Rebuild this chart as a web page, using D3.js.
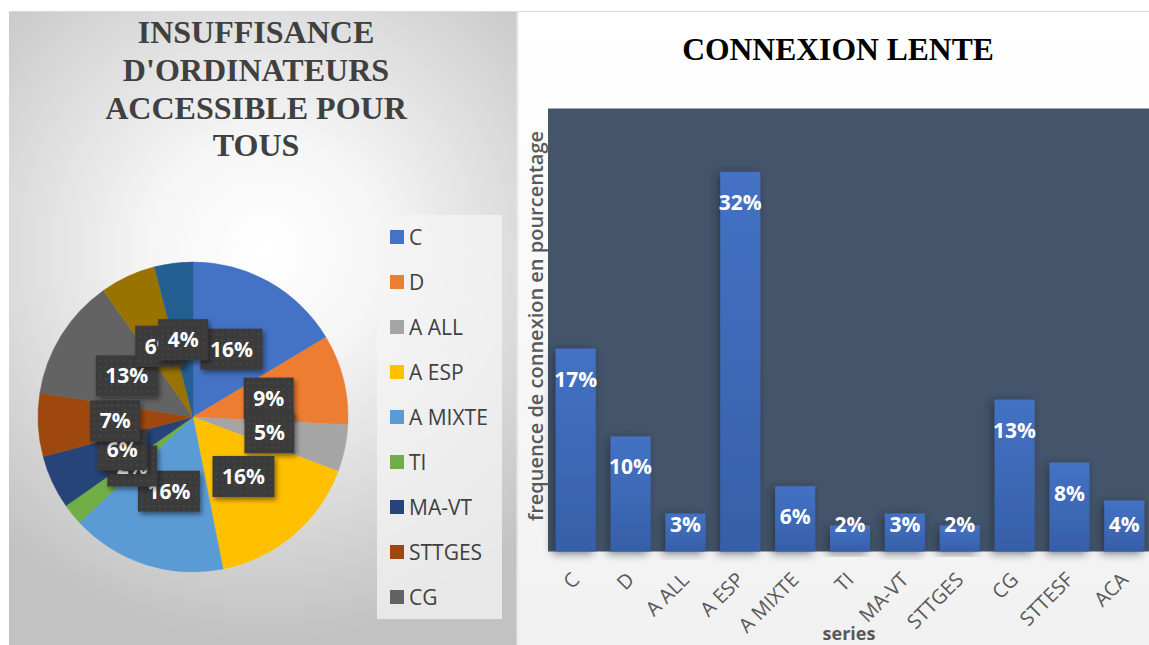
<!DOCTYPE html>
<html>
<head>
<meta charset="utf-8">
<script src="https://cdn.jsdelivr.net/npm/d3@7"></script>
<style>
    body { margin: 0; background: #fff; }
    svg { display: block; }
</style>
</head>
<body>
<svg id="chart" width="1149" height="645"></svg>
<script>
// data
const categories = ['C', 'D', 'A ALL', 'A ESP', 'A MIXTE', 'TI', 'MA-VT', 'STTGES', 'CG', 'STTESF', 'ACA'];
const pieColors = ['#4472C4', '#ED7D31', '#A5A5A5', '#FFC000', '#5B9BD5', '#70AD47',
                   '#264478', '#9E480E', '#636363', '#997300', '#255E91'];
const pieValues = [16.4, 9.4, 4.9, 16.2, 16.2, 2.2, 5.6, 6.6, 12.7, 5.8, 4.0];
const barValues = [17.1, 9.7, 3.2, 32.0, 5.5, 2.2, 3.2, 2.2, 12.8, 7.5, 4.3];
const pieTitle = ['INSUFFISANCE', "D'ORDINATEURS", 'ACCESSIBLE POUR', 'TOUS'];
const barTitle = 'CONNEXION LENTE';
const yTitle = 'frequence de connexion en pourcentage';
const xTitle = 'series';

const svg = d3.select('#chart');
const defs = svg.append('defs');

// backgrounds
const rg = defs.append('radialGradient').attr('id', 'leftBg')
    .attr('gradientUnits', 'userSpaceOnUse')
    .attr('cx', 265).attr('cy', 250).attr('r', 390);
rg.append('stop').attr('offset', 0).attr('stop-color', '#ffffff');
rg.append('stop').attr('offset', 0.3).attr('stop-color', '#f5f5f5');
rg.append('stop').attr('offset', 1).attr('stop-color', '#c2c2c2');

const lg = defs.append('linearGradient').attr('id', 'rightBg')
    .attr('x1', 0).attr('y1', 0).attr('x2', 0).attr('y2', 1);
lg.append('stop').attr('offset', 0).attr('stop-color', '#ffffff');
lg.append('stop').attr('offset', 1).attr('stop-color', '#f1f1f1');

const bg = defs.append('linearGradient').attr('id', 'barFill')
    .attr('x1', 0).attr('y1', 0).attr('x2', 0).attr('y2', 1);
bg.append('stop').attr('offset', 0).attr('stop-color', '#4472C4');
bg.append('stop').attr('offset', 1).attr('stop-color', '#365FA8');

const shadow = defs.append('filter').attr('id', 'shadow')
    .attr('x', '-30%').attr('y', '-30%').attr('width', '160%').attr('height', '160%');
shadow.append('feDropShadow').attr('dx', 2).attr('dy', 3).attr('stdDeviation', 2.5)
    .attr('flood-color', '#000').attr('flood-opacity', 0.45);

const barShadow = defs.append('filter').attr('id', 'barShadow')
    .attr('x', '-50%').attr('y', '-20%').attr('width', '200%').attr('height', '140%');
barShadow.append('feDropShadow').attr('dx', -3).attr('dy', 2).attr('stdDeviation', 4)
    .attr('flood-color', '#1e2633').attr('flood-opacity', 0.6);

const dots = defs.append('pattern').attr('id', 'dots')
    .attr('width', 6).attr('height', 6).attr('patternUnits', 'userSpaceOnUse');
dots.append('rect').attr('width', 6).attr('height', 6).attr('fill', '#3b3b3b');
dots.append('circle').attr('cx', 3).attr('cy', 3).attr('r', 0.9).attr('fill', '#4b4b4b');

svg.append('rect').attr('x', 9).attr('y', 11).attr('width', 508).attr('height', 634)
    .attr('fill', 'url(#leftBg)');
svg.append('rect').attr('x', 518).attr('y', 11).attr('width', 631).attr('height', 634)
    .attr('fill', 'url(#rightBg)');
svg.append('line').attr('x1', 9).attr('x2', 1149).attr('y1', 11.5).attr('y2', 11.5)
    .attr('stroke', '#d9d9d9');
svg.append('line').attr('x1', 517.5).attr('x2', 517.5).attr('y1', 11).attr('y2', 645)
    .attr('stroke', '#e8e8e8').attr('stroke-width', 2);

// ---------- left: pie ----------
const left = svg.append('g');

// the title in the picture is a little wider than the font, so stretch it a bit
left.append('text')
    .attr('text-anchor', 'middle')
    .attr('transform', 'translate(256,0) scale(1.05,1)')
    .style('font-family', '"Liberation Serif", "Times New Roman", serif')
    .style('font-weight', 'bold')
    .style('font-size', '30.5px')
    .attr('fill', '#404040')
    .selectAll('tspan')
    .data(pieTitle)
    .join('tspan')
    .attr('x', 0)
    .attr('y', (d, i) => 43 + i * 37.8)
    .text(d => d);

const cx = 193, cy = 417, radius = 155;
const pie = d3.pie().sort(null).value(d => d);
const arcs = pie(pieValues);
const total = d3.sum(pieValues);
const arc = d3.arc().innerRadius(0).outerRadius(radius);
const labelArc = d3.arc().innerRadius(78).outerRadius(78);

const pieG = left.append('g').attr('transform', `translate(${cx},${cy})`);
pieG.selectAll('path')
    .data(arcs)
    .join('path')
    .attr('d', arc)
    .attr('fill', (d, i) => pieColors[i])
    .attr('stroke', (d, i) => pieColors[i])
    .attr('stroke-width', 0.5);

const pieLabels = pieG.selectAll('g.lbl')
    .data(arcs)
    .join('g')
    .attr('class', 'lbl')
    .attr('transform', d => `translate(${labelArc.centroid(d)})`);

pieLabels.each(function (d) {
    const g = d3.select(this);
    const txt = Math.round(d.value / total * 100) + '%';
    const rect = g.append('rect').attr('fill', 'url(#dots)').attr('filter', 'url(#shadow)');
    const t = g.append('text')
        .attr('text-anchor', 'middle')
        .attr('dy', '0.36em')
        .style('font-family', '"Open Sans", sans-serif')
        .style('font-weight', 'bold')
        .style('font-size', '21px')
        .attr('fill', '#fff')
        .text(txt);
    const w = t.node().getComputedTextLength() + 19;
    rect.attr('x', -w / 2).attr('y', -20.5).attr('width', w).attr('height', 41);
});

// legend (only the entries that fit in its box are shown)
const legBox = {x: 377, y: 215, w: 125, h: 404};
const itemH = 45;
left.append('rect')
    .attr('x', legBox.x).attr('y', legBox.y)
    .attr('width', legBox.w).attr('height', legBox.h)
    .attr('fill', '#f4f4f4').attr('fill-opacity', 0.75);
const nFit = Math.floor((legBox.h + 10) / itemH);
const legend = left.selectAll('g.leg')
    .data(categories.slice(0, nFit))
    .join('g')
    .attr('class', 'leg')
    .attr('transform', (d, i) => `translate(390,${237 + i * itemH})`);
legend.append('rect')
    .attr('x', 0).attr('y', -7).attr('width', 14).attr('height', 14)
    .attr('fill', (d, i) => pieColors[i]);
legend.append('text')
    .attr('x', 19).attr('y', 7.5)
    .style('font-family', '"Open Sans", sans-serif')
    .style('font-size', '21px')
    .attr('fill', '#404040')
    .text(d => d);

// ---------- right: bars ----------
const right = svg.append('g');

right.append('text')
    .attr('transform', 'translate(838,60) scale(1.02,1)')
    .attr('text-anchor', 'middle')
    .style('font-family', '"Liberation Serif", "Times New Roman", serif')
    .style('font-weight', 'bold')
    .style('font-size', '31px')
    .attr('fill', '#000')
    .text(barTitle);

const plot = {left: 548, right: 1149, top: 108.5, bottom: 551.5};

const x = d3.scaleBand()
    .domain(categories)
    .range([plot.left, 1152])
    .paddingInner(0.27)
    .paddingOuter(0.14);
const y = d3.scaleLinear()
    .domain([0, 37.35])
    .range([plot.bottom, plot.top]);

right.append('rect')
    .attr('x', plot.left).attr('y', plot.top)
    .attr('width', plot.right - plot.left).attr('height', plot.bottom - plot.top)
    .attr('fill', '#44546A');

right.append('g')
    .selectAll('rect')
    .data(barValues)
    .join('rect')
    .attr('x', (d, i) => x(categories[i]))
    .attr('y', d => y(d))
    .attr('width', x.bandwidth())
    .attr('height', d => plot.bottom - y(d))
    .attr('fill', 'url(#barFill)')
    .attr('filter', 'url(#barShadow)');

right.append('g')
    .selectAll('text')
    .data(barValues)
    .join('text')
    .attr('x', (d, i) => x(categories[i]) + x.bandwidth() / 2)
    .attr('y', d => Math.min(y(d) + 38, 532))
    .attr('text-anchor', 'middle')
    .style('font-family', '"Open Sans", sans-serif')
    .style('font-weight', 'bold')
    .style('font-size', '21px')
    .attr('fill', '#fff')
    .text(d => Math.round(d) + '%');

const xAxis = right.append('g')
    .attr('transform', `translate(0,${plot.bottom})`)
    .call(d3.axisBottom(x).tickSize(0));
xAxis.select('.domain').remove();
xAxis.selectAll('text')
    .attr('x', 0).attr('y', 0).attr('dy', 0)
    .attr('text-anchor', 'end')
    .attr('transform', `translate(${x.bandwidth() / 2 - 15},29.5) rotate(-45)`)
    .style('font-family', '"Open Sans", sans-serif')
    .style('font-size', '20px')
    .attr('fill', '#595959');

right.append('text')
    .attr('transform', 'translate(543,326) rotate(-90)')
    .attr('text-anchor', 'middle')
    .style('font-family', '"Open Sans", sans-serif')
    .style('font-weight', 600)
    .style('font-size', '20px')
    .attr('fill', '#595959')
    .text(yTitle);

right.append('text')
    .attr('x', 849).attr('y', 640)
    .attr('text-anchor', 'middle')
    .style('font-family', '"Open Sans", sans-serif')
    .style('font-weight', 'bold')
    .style('font-size', '18px')
    .attr('fill', '#595959')
    .text(xTitle);
</script>
</body>
</html>
